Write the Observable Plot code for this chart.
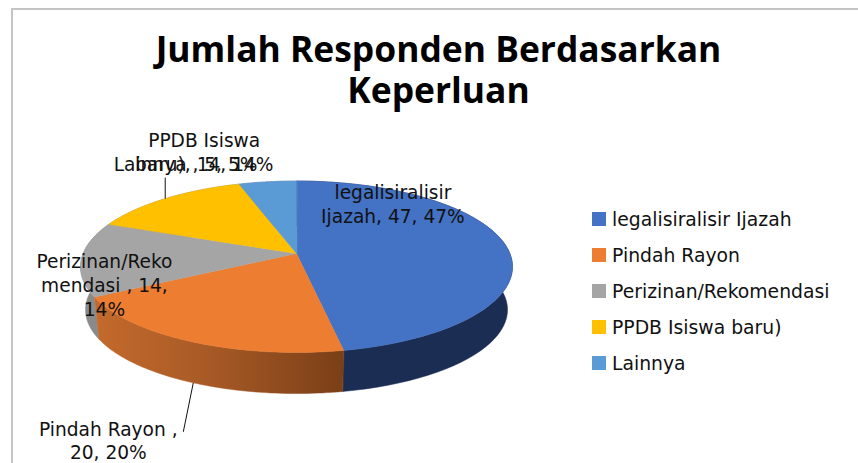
<!DOCTYPE html>
<html>
<head>
<meta charset="utf-8">
<script src="https://cdn.jsdelivr.net/npm/d3@7"></script>
<script src="https://cdn.jsdelivr.net/npm/@observablehq/plot@0.6"></script>
<style>
  html, body { margin: 0; padding: 0; background: #fff; }
  #page { position: relative; width: 858px; height: 463px; overflow: hidden; font-family: "DejaVu Sans", sans-serif; color: #111; }
  #frame { position: absolute; left: 11px; top: 8px; right: -4px; bottom: -4px; border: 2px solid #c4c4c4; }
  #title { position: absolute; left: 0; top: 28px; width: 877px; text-align: center; font-family: "Open Sans", sans-serif; font-size: 35.4px; font-weight: 700; line-height: 41px; color: #000; }
  #chart { position: absolute; left: 0; top: 112px; }
  #legend { position: absolute; left: 592px; top: 201px; font-size: 18.8px; }
  .row { display: flex; align-items: center; height: 36px; white-space: nowrap; }
  .key { width: 14px; height: 14px; margin-right: 6px; }
</style>
</head>
<body>
<div id="page">
  <div id="frame"></div>
  <div id="title">Jumlah Responden Berdasarkan<br>Keperluan</div>
  <div id="chart"></div>
  <div id="legend"></div>
</div>
<script>
// ---- data ----
const categories = ["legalisiralisir Ijazah", "Pindah Rayon", "Perizinan/Rekomendasi", "PPDB Isiswa baru)", "Lainnya"];
const values = [47, 20, 14, 14, 5];
const labelTexts = ["legalisiralisir\nIjazah, 47, 47%", "Pindah Rayon ,\n20, 20%", "Perizinan/Reko\nmendasi , 14,\n14%", "PPDB Isiswa\nbaru), 14, 14%", "Lainnya , 5, 5%"];
const topColors = ["#4472C4", "#ED7D31", "#A5A5A5", "#FFC000", "#5B9BD5"];

// ---- layout: tilted-disc camera, label offsets from each slice's rim midpoint ----
const cam = {cx: 296, cy: 253, A: 213.4, B: 83.7, k: 0.1545, depth: 43.3, shrink: 0.977};
const labelOffset = [[-113, -42], [-85, 57], [23, 25.5], [39, -47], [-82, -18]];
const leader = [null, [-10, 49], null, [0, -21], null];
const sideFills = ["#1b2d52", "url(#orangeSide)", "#8a8a8a", "#8a8a8a", "#8a8a8a"];

function project(angle, r, lower) {
  const u = r * Math.sin(angle), v = -r * Math.cos(angle), w = 1 - cam.k * v, s = lower ? cam.shrink : 1;
  return {x: cam.cx + s * cam.A * u / w, y: cam.cy + (lower ? cam.depth : 0) + s * cam.B * v / w};
}

const slices = d3.pie().sort(null)(values);
const arc = (s, lower) => d3.range(0, 61).map(i => project(s.startAngle + (s.endAngle - s.startAngle) * i / 60, 1, lower));

const topPolys = [], sidePolys = [];
slices.forEach((s, i) => {
  [project(0, 0, false), ...arc(s, false)].forEach(p => topPolys.push({...p, i}));
  [...arc(s, false), ...arc(s, true).reverse()].forEach(p => sidePolys.push({...p, i}));
});

const labelData = slices.map((s, i) => {
  const a = project((s.startAngle + s.endAngle) / 2, 1, i === 1);
  return {x: a.x + labelOffset[i][0], y: a.y + labelOffset[i][1], text: labelTexts[i]};
});
const leaderData = slices.flatMap((s, i) => {
  if (!leader[i]) return [];
  const a = project((s.startAngle + s.endAngle) / 2, 1, i === 1);
  return [{x1: a.x, y1: a.y, x2: a.x + leader[i][0], y2: a.y + leader[i][1]}];
});

const gradient = () => {
  const svg = d3.create("svg:defs");
  const g = svg.append("linearGradient").attr("id", "orangeSide").attr("gradientUnits", "userSpaceOnUse")
    .attr("x1", 94).attr("x2", 343).attr("y1", 0).attr("y2", 0);
  g.append("stop").attr("offset", "0%").attr("stop-color", "#c46a2c");
  g.append("stop").attr("offset", "45%").attr("stop-color", "#a85a26");
  g.append("stop").attr("offset", "100%").attr("stop-color", "#7a3f17");
  return svg.node();
};

const drawOrder = [3, 4, 2, 0, 1]; // back to front for the rim

const plot = Plot.plot({
  width: 858, height: 351,
  margin: 0,
  x: {domain: [0, 858], range: [0, 858], axis: null},
  y: {domain: [112, 463], range: [0, 351], axis: null},
  marks: [
    gradient,
    ...drawOrder.map(i => Plot.line(sidePolys.filter(d => d.i === i), {x: "x", y: "y", fill: sideFills[i], stroke: sideFills[i], strokeWidth: 0.5, curve: "linear-closed"})),
    ...slices.map((s, i) => Plot.line(topPolys.filter(d => d.i === i), {x: "x", y: "y", fill: topColors[i], stroke: topColors[i], strokeWidth: 0.5, curve: "linear-closed"})),
    Plot.link(leaderData, {x1: "x1", y1: "y1", x2: "x2", y2: "y2", stroke: "#111", strokeWidth: 1}),
    Plot.text(labelData, {x: "x", y: "y", text: "text", fontSize: 18.6, lineHeight: 1.28, fill: "#111", fontFamily: "DejaVu Sans"})
  ]
});
plot.style.background = "transparent";
document.getElementById("chart").append(plot);

const legend = document.getElementById("legend");
categories.forEach((c, i) => {
  const row = document.createElement("div"); row.className = "row";
  const key = document.createElement("div"); key.className = "key"; key.style.background = topColors[i];
  const label = document.createElement("span"); label.textContent = c;
  row.append(key, label); legend.append(row);
});
</script>
</body>
</html>
